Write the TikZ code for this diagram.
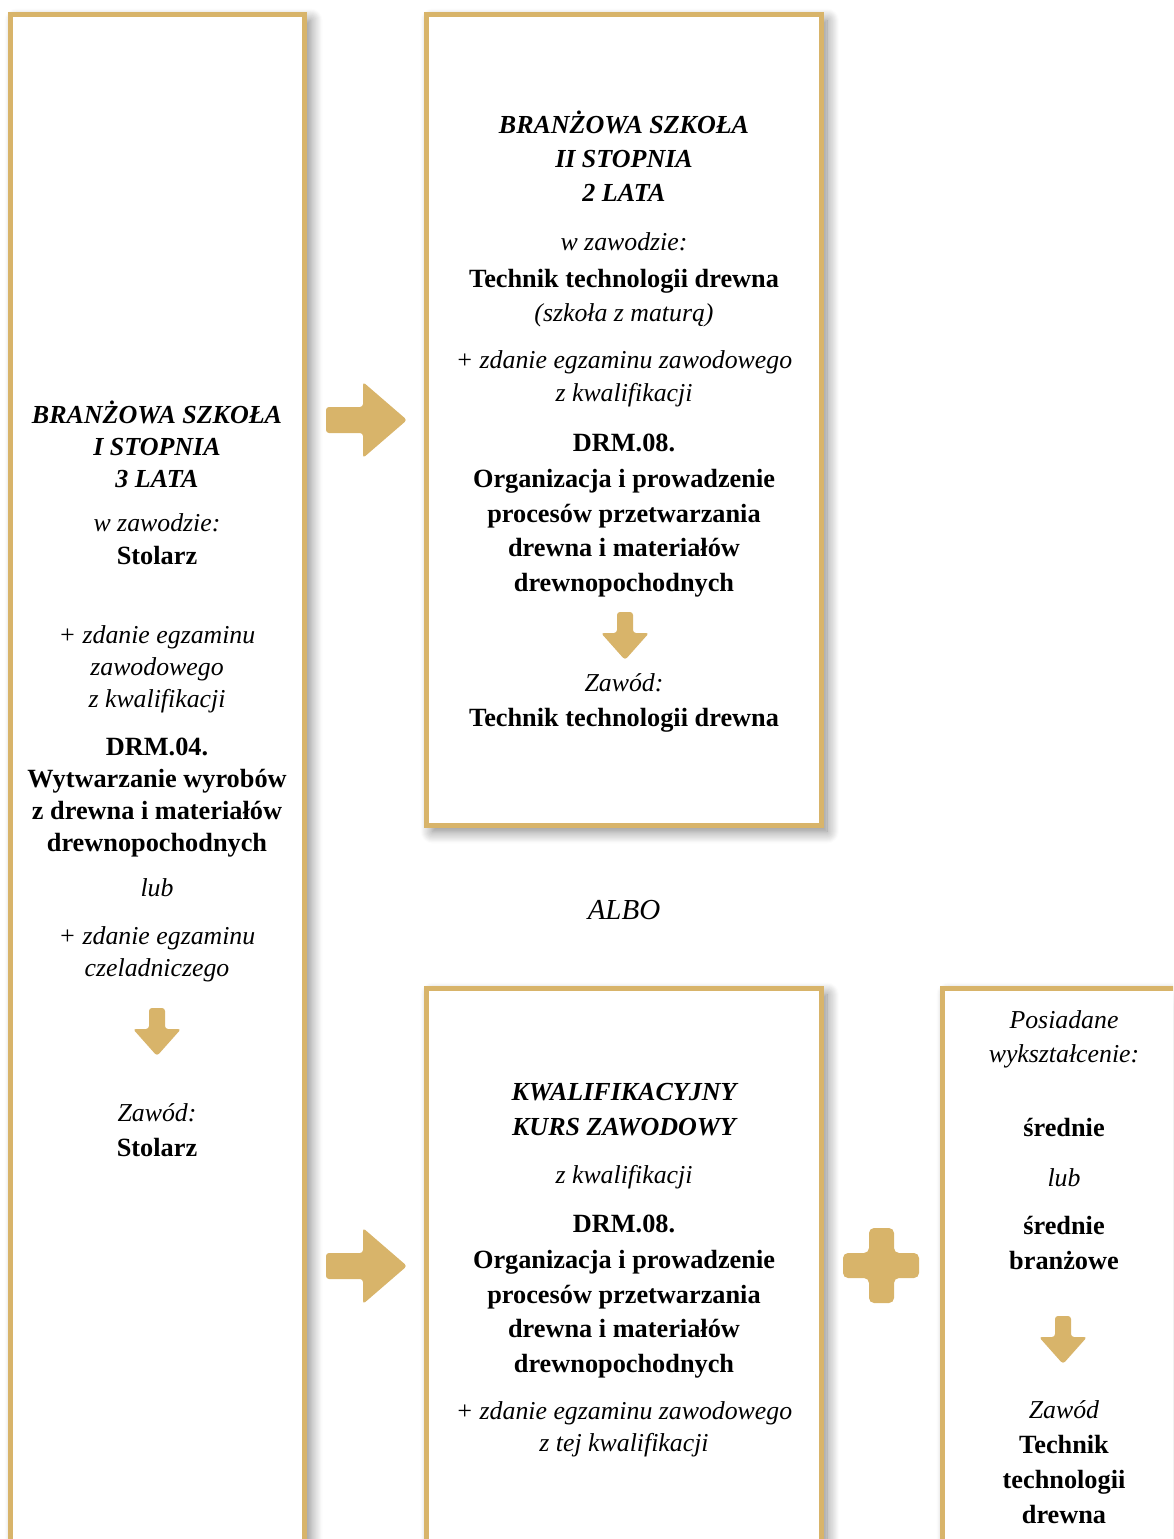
\documentclass[tikz,border=0pt]{standalone}
\usepackage{fontspec}
\setmainfont{Liberation Serif}
\usetikzlibrary{shadows.blur}
\definecolor{gold}{HTML}{D8B46A}
\tikzset{
  frame/.style={draw=gold, line width=5pt, fill=white,
    blur shadow={shadow xshift=6pt, shadow yshift=-6pt, shadow blur radius=12pt, shadow blur steps=12, shadow opacity=50}},
  blockarrow/.style={fill=gold, rounded corners=3pt},
  tt/.style={anchor=base, inner sep=0pt, font=\fontsize{26}{30}\selectfont},
  ti/.style={tt, font=\fontsize{25.8}{30}\selectfont\itshape},
  tb/.style={tt, font=\fontsize{26.3}{30}\selectfont\bfseries},
  tbi/.style={tt, font=\fontsize{26}{30}\selectfont\bfseries\itshape},
}
\newcommand\tx[5]{\node[#4] (#1) at (#2,#3) {#5};}
\newcommand\rarrow[3]{\fill[blockarrow] (#2,#3) ++(0,-13) -- ++(37,0) -- ++(0,-25) -- ++(44,38) -- ++(-44,38) -- ++(0,-25) -- ++(-37,0) -- cycle; \coordinate (#1) at (#2,#3);}
\newcommand\darrow[3]{\fill[blockarrow] (#2,#3) ++(-8,0) -- ++(16,0) -- ++(0,21) -- ++(16,0) -- ++(-24,27) -- ++(-24,-27) -- ++(16,0) -- cycle; \coordinate (#1) at (#2,#3);}
\begin{document}
\begin{tikzpicture}[x=1pt,y=-1pt]
\useasboundingbox (0,0) rectangle (1173,1539);
\clip (0,0) rectangle (1173,1539);
% frames
\draw[frame] (10.5,14.5) rectangle (304.5,1580);
\draw[frame] (426.5,14.5) rectangle (821,825.5);
\draw[frame] (426.5,988.5) rectangle (821,1580);
\draw[frame] (942.5,988.5) rectangle (1200,1580);
% box 1
\tx{a1}{157}{423}{tbi}{BRANŻOWA SZKOŁA}
\tx{a2}{157}{455}{tbi}{I STOPNIA}
\tx{a3}{157}{487}{tbi}{3 LATA}
\tx{a4}{157}{531}{ti}{w zawodzie:}
\tx{a5}{157}{564}{tb}{Stolarz}
\tx{a6}{157}{643}{ti}{+ zdanie egzaminu}
\tx{a7}{157}{675}{ti}{zawodowego}
\tx{a8}{157}{707}{ti}{z kwalifikacji}
\tx{a9}{157}{755}{tb}{DRM.04.}
\tx{a10}{157}{787}{tb}{Wytwarzanie wyrobów}
\tx{a11}{157}{819}{tb}{z drewna i materiałów}
\tx{a12}{157}{851}{tb}{drewnopochodnych}
\tx{a13}{157}{896}{ti}{lub}
\tx{a14}{157}{944}{ti}{+ zdanie egzaminu}
\tx{a15}{157}{976}{ti}{czeladniczego}
\darrow{da1}{157}{1008}
\tx{a16}{157}{1121}{ti}{Zawód:}
\tx{a17}{157}{1156}{tb}{Stolarz}
% box 2
\tx{b1}{624}{133}{tbi}{BRANŻOWA SZKOŁA}
\tx{b2}{624}{167}{tbi}{II STOPNIA}
\tx{b3}{624}{201}{tbi}{2 LATA}
\tx{b4}{624}{250}{ti}{w zawodzie:}
\tx{b5}{624}{287}{tb}{Technik technologii drewna}
\tx{b6}{624}{321}{ti}{(szkoła z maturą)}
\tx{b7}{624}{368}{ti}{+ zdanie egzaminu zawodowego}
\tx{b8}{624}{401}{ti}{z kwalifikacji}
\tx{b9}{624}{451}{tb}{DRM.08.}
\tx{b10}{624}{487}{tb}{Organizacja i prowadzenie}
\tx{b11}{624}{522}{tb}{procesów przetwarzania}
\tx{b12}{624}{556}{tb}{drewna i materiałów}
\tx{b13}{624}{591}{tb}{drewnopochodnych}
\darrow{da2}{625}{612}
\tx{b14}{624}{691}{ti}{Zawód:}
\tx{b15}{624}{726}{tb}{Technik technologii drewna}
% ALBO
\node[tt, font=\fontsize{29}{36}\selectfont\itshape] (albo) at (624,919) {ALBO};
% box 3
\tx{c1}{624}{1100}{tbi}{KWALIFIKACYJNY}
\tx{c2}{624}{1135}{tbi}{KURS ZAWODOWY}
\tx{c3}{624}{1183}{ti}{z kwalifikacji}
\tx{c4}{624}{1232}{tb}{DRM.08.}
\tx{c5}{624}{1268}{tb}{Organizacja i prowadzenie}
\tx{c6}{624}{1303}{tb}{procesów przetwarzania}
\tx{c7}{624}{1337}{tb}{drewna i materiałów}
\tx{c8}{624}{1372}{tb}{drewnopochodnych}
\tx{c9}{624}{1419}{ti}{+ zdanie egzaminu zawodowego}
\tx{c10}{624}{1451}{ti}{z tej kwalifikacji}
% box 4
\tx{d1}{1064}{1028}{ti}{Posiadane}
\tx{d2}{1064}{1062}{ti}{wykształcenie:}
\tx{d3}{1064}{1136}{tb}{średnie}
\tx{d4}{1064}{1186}{ti}{lub}
\tx{d5}{1064}{1234}{tb}{średnie}
\tx{d6}{1064}{1269}{tb}{branżowe}
\darrow{da3}{1063}{1316}
\tx{d7}{1064}{1418}{ti}{Zawód}
\tx{d8}{1064}{1453}{tb}{Technik}
\tx{d9}{1064}{1488}{tb}{technologii}
\tx{d10}{1064}{1523}{tb}{drewna}
% right arrows
\rarrow{ra1}{326}{420}
\rarrow{ra2}{326}{1266}
% plus
\fill[blockarrow, rounded corners=5pt] (869,1228) -- (894,1228) -- (894,1253) -- (919,1253) -- (919,1278) -- (894,1278) -- (894,1303) -- (869,1303) -- (869,1278) -- (843,1278) -- (843,1253) -- (869,1253) -- cycle;
\end{tikzpicture}
\end{document}
